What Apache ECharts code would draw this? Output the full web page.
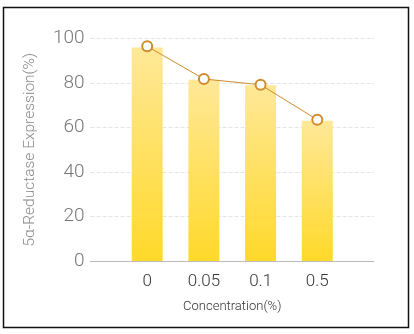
<!DOCTYPE html>
<html><head><meta charset="utf-8">
<script src="https://cdn.jsdelivr.net/npm/echarts@6/dist/echarts.min.js"></script>
<style>html,body{margin:0;padding:0;background:#fff}#c{width:414px;height:334px}</style>
</head><body><div id="c"></div>
<script>
const categories = ['', '0', '0.05', '0.1', '0.5', ''];
const barValues = [null, 96, 81.5, 79, 63, null];
const lineValues = [null, 96.5, 81.8, 79.2, 63.5, null];
const yTicks = [0, 20, 40, 60, 80, 100];
const yName = '5α-Reductase Expression(%)';
const xName = 'Concentration(%)';

const chart = echarts.init(document.getElementById('c'), null, {renderer: 'canvas'});
chart.setOption({
  animation: false,
  backgroundColor: '#fff',
  graphic: [{type: 'rect', shape: {x: 3.5, y: 7.5, width: 405, height: 320}, style: {fill: 'none', stroke: '#111', lineWidth: 1.5}}],
  grid: {left: 90.5, right: 40, top: 38.5, bottom: 73},
  xAxis: {
    type: 'category', data: categories, boundaryGap: false,
    name: xName, nameLocation: 'middle', nameGap: 39,
    nameTextStyle: {color: '#333', fontSize: 13, fontFamily: 'Roboto', fontWeight: 300},
    axisLine: {lineStyle: {color: '#bbb', width: 1}},
    axisTick: {show: false},
    axisLabel: {color: '#333', fontSize: 17, fontFamily: 'Roboto', fontWeight: 300, margin: 12}
  },
  yAxis: {
    type: 'value', min: yTicks[0], max: yTicks[yTicks.length - 1], interval: 20,
    name: yName, nameLocation: 'middle', nameGap: 52,
    nameTextStyle: {color: '#888', fontSize: 15.5, fontFamily: 'Roboto', fontWeight: 300},
    axisLine: {show: false}, axisTick: {show: false},
    axisLabel: {color: '#777', fontSize: 19, fontFamily: 'Roboto', fontWeight: 300, margin: 6},
    splitLine: {lineStyle: {color: '#e4e4e4', type: 'dashed', width: 1}}
  },
  series: [{
    type: 'bar', data: barValues, barWidth: 31,
    itemStyle: {color: new echarts.graphic.LinearGradient(0, 0, 0, 1, [
      {offset: 0, color: '#FFE898'}, {offset: 1, color: '#FFD92A'}])}
  }, {
    type: 'line', data: lineValues, symbol: 'circle', symbolSize: 10,
    lineStyle: {color: '#CF8B2C', width: 1},
    itemStyle: {color: '#fff', borderColor: '#CF8B2C', borderWidth: 2}
  }]
});
</script></body></html>
